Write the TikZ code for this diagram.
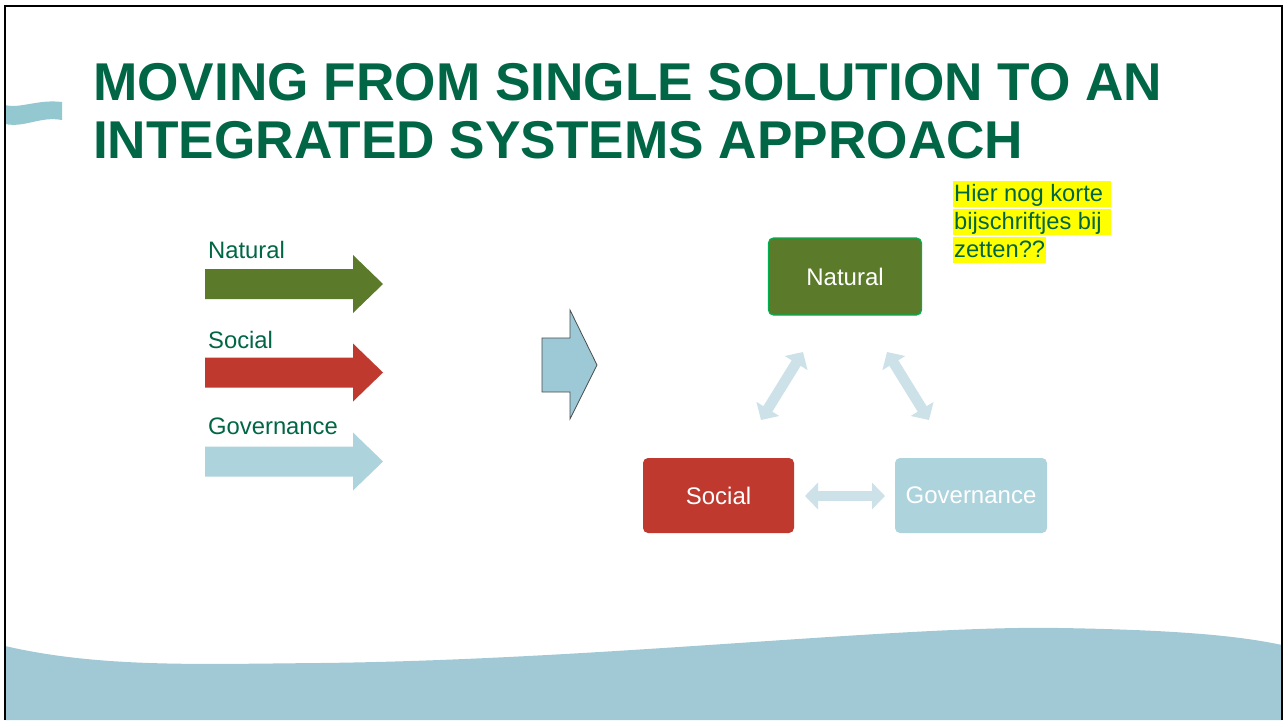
\documentclass[tikz,border=0pt]{standalone}
\usepackage{fontspec}
\setmainfont{Liberation Sans}
\usetikzlibrary{arrows.meta}
\definecolor{titlegreen}{RGB}{0,102,70}
\definecolor{natgreen}{RGB}{91,123,42}
\definecolor{natborder}{RGB}{0,176,80}
\definecolor{socred}{RGB}{192,57,47}
\definecolor{govblue}{RGB}{173,211,220}
\definecolor{wavecol}{RGB}{160,200,213}
\definecolor{ribbon}{RGB}{148,200,208}
\definecolor{bigarrow}{RGB}{157,200,213}
\definecolor{dblcol}{RGB}{205,225,232}
\definecolor{hl}{RGB}{255,255,0}
\newcommand\rightblock[2]{%
  \fill[#1] (205,{#2-15}) -- (353,{#2-15}) -- (353,{#2-29}) -- (383,#2) -- (353,{#2+29}) -- (353,{#2+15}) -- (205,{#2+15}) -- cycle;}
\tikzset{
  lbl/.style={anchor=base west, inner sep=0, text=titlegreen, font=\fontsize{23.8}{28}\selectfont},
  titletext/.style={anchor=base west, inner sep=0, text=titlegreen, font=\bfseries\fontsize{53.2}{58}\selectfont},
  box/.style={rounded corners=5, minimum height=75, text=white, font=\fontsize{24}{28}\selectfont, inner sep=0},
  dbl/.style={draw=dblcol, line width=10.5, {Triangle[width=26,length=13]}-{Triangle[width=26,length=13]}},
  note/.style={anchor=base west, fill=hl, text=titlegreen, inner xsep=1, inner ysep=0, text height=20, text depth=6, font=\fontsize{23.7}{28}\selectfont}
}
\begin{document}
\begin{tikzpicture}[x=1pt,y=-1pt]
\useasboundingbox (0,0) rectangle (1284,720);
\fill[white] (0,0) rectangle (1284,720);
% bottom wave
\fill[wavecol] (5,646) .. controls (100,668) and (200,664) .. (320,663)
  .. controls (600,660) and (900,625) .. (1060,628)
  .. controls (1180,630) and (1240,636) .. (1282,645) -- (1282,720) -- (5,720) -- cycle;
% top-left ribbon
\fill[ribbon] (5,105) .. controls (20,109) and (38,99) .. (62,102) -- (62,120)
  .. controls (40,116) and (25,128) .. (5,124) -- cycle;
% frame
\draw[line width=2] (5,720) -- (5,6) -- (1282,6) -- (1282,720);
% title
\node[titletext] (t1) at (93,100) {MOVING FROM SINGLE SOLUTION TO AN};
\node[titletext] (t2) at (93,158) {INTEGRATED SYSTEMS APPROACH};
% left arrows
\node[lbl] (lnat) at (208,258) {Natural};
\rightblock{natgreen}{284}
\node[lbl] (lsoc) at (208,348) {Social};
\rightblock{socred}{372.5}
\node[lbl] (lgov) at (208,434) {Governance};
\rightblock{govblue}{461.5}
% big arrow
\filldraw[fill=bigarrow, draw=black!70, line width=0.8] (542,338) -- (570,338) -- (570,310) -- (597,365) -- (570,419) -- (570,392) -- (542,392) -- cycle;
% boxes
\node[box, fill=natgreen, draw=natborder, line width=1.2, minimum width=153, minimum height=77] (nat) at (845,276.5) {Natural};
\node[box, fill=socred, minimum width=151] (soc) at (718.5,495.5) {Social};
\node[box, fill=govblue, minimum width=152] (gov) at (971,495.5) {Governance};
% double arrows
\coordinate (a1) at (761,420); \coordinate (a2) at (803,352);
\coordinate (b1) at (887,352); \coordinate (b2) at (929,420);
\coordinate (c1) at (805,496); \coordinate (c2) at (885,496);
\draw[dbl] (a1) -- (a2);
\draw[dbl] (b1) -- (b2);
\draw[dbl] (c1) -- (c2);
% note
\node[note] (n1) at (953,201) {Hier nog korte\hspace*{7pt}};
\node[note] (n2) at (953,229) {bijschriftjes bij\hspace*{8pt}};
\node[note] (n3) at (953,257) {zetten??};
\end{tikzpicture}
\end{document}
